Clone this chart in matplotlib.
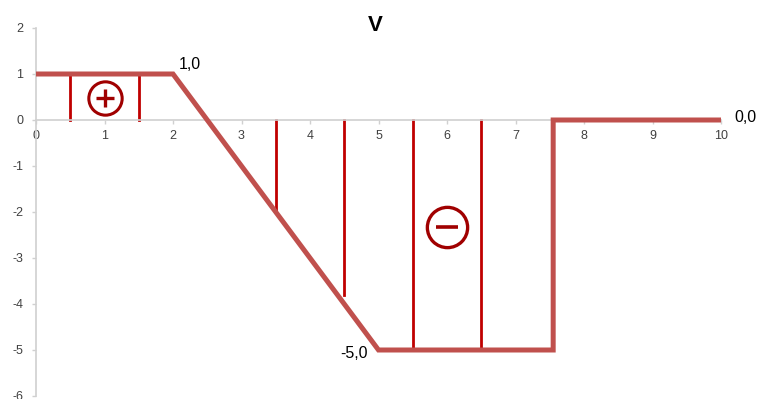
import matplotlib.pyplot as plt

# shear diagram V
x_v = [0, 2, 5, 7.55, 7.55, 10]
y_v = [1, 1, -5, -5, 0, 0]

# hatch lines (x, top, bottom)
hatch_x = [0.5, 1.5, 3.5, 4.5, 5.5, 6.5]
hatch_top = [1, 1, 0, 0, 0, 0]
hatch_bot = [0, 0, -2, -3.8, -5, -5]

# value labels
label_txt = ['1,0', '-5,0', '0,0']
label_x = [2.08, 4.85, 10.2]
label_y = [1.05, -5.07, 0.05]

sign_x = [1.0, 6.0]
sign_y = [0.48, -2.33]

plt.rcParams['font.family'] = ['Liberation Sans', 'DejaVu Sans']
plt.rcParams['axes.unicode_minus'] = False

fig = plt.figure(figsize=(7.6, 3.99), dpi=100)
ax = fig.add_axes([36 / 760, 1 - 396 / 399, 685 / 760, 368 / 399])

ax.plot(x_v, y_v, color='#C0504D', lw=3.6, solid_joinstyle='miter', zorder=3)
for hx, ht, hb in zip(hatch_x, hatch_top, hatch_bot):
    ax.plot([hx, hx], [ht, hb], color='#C00000', lw=2.0, zorder=2)

# + and - signs in circles
ax.plot(sign_x[0], sign_y[0], marker='o', ms=24, mfc='none', mec='#A00000', mew=2.2)
ax.plot(sign_x[0], sign_y[0], marker='+', ms=13, mec='#A00000', mew=2.4)
ax.plot(sign_x[1], sign_y[1], marker='o', ms=29, mfc='none', mec='#A00000', mew=2.4)
ax.plot(sign_x[1], sign_y[1], marker='_', ms=16, mec='#A00000', mew=2.6)

ax.text(label_x[0], label_y[0], label_txt[0], fontsize=11.5, ha='left', va='bottom')
ax.text(label_x[1], label_y[1], label_txt[1], fontsize=11.5, ha='right', va='center')
ax.text(label_x[2], label_y[2], label_txt[2], fontsize=11.5, ha='left', va='center')

ax.text(4.95, 2.05, 'V', fontsize=16, fontweight='bold', ha='center', va='center')

ax.set_xlim(0, 10)
ax.set_ylim(-6, 2)
ax.set_xticks(range(0, 11))
ax.set_yticks(range(-6, 3))

ax.spines['top'].set_visible(False)
ax.spines['right'].set_visible(False)
ax.spines['bottom'].set_position(('data', 0))
for s in ['left', 'bottom']:
    ax.spines[s].set_color('#D0D0D0')
    ax.spines[s].set_linewidth(1.2)
ax.tick_params(axis='both', colors='#D0D0D0', labelcolor='#404040', labelsize=9,
               length=3, width=1, direction='out')
ax.tick_params(axis='x', pad=4)
ax.tick_params(axis='y', pad=6)

fig.savefig('out.png', dpi=100)
